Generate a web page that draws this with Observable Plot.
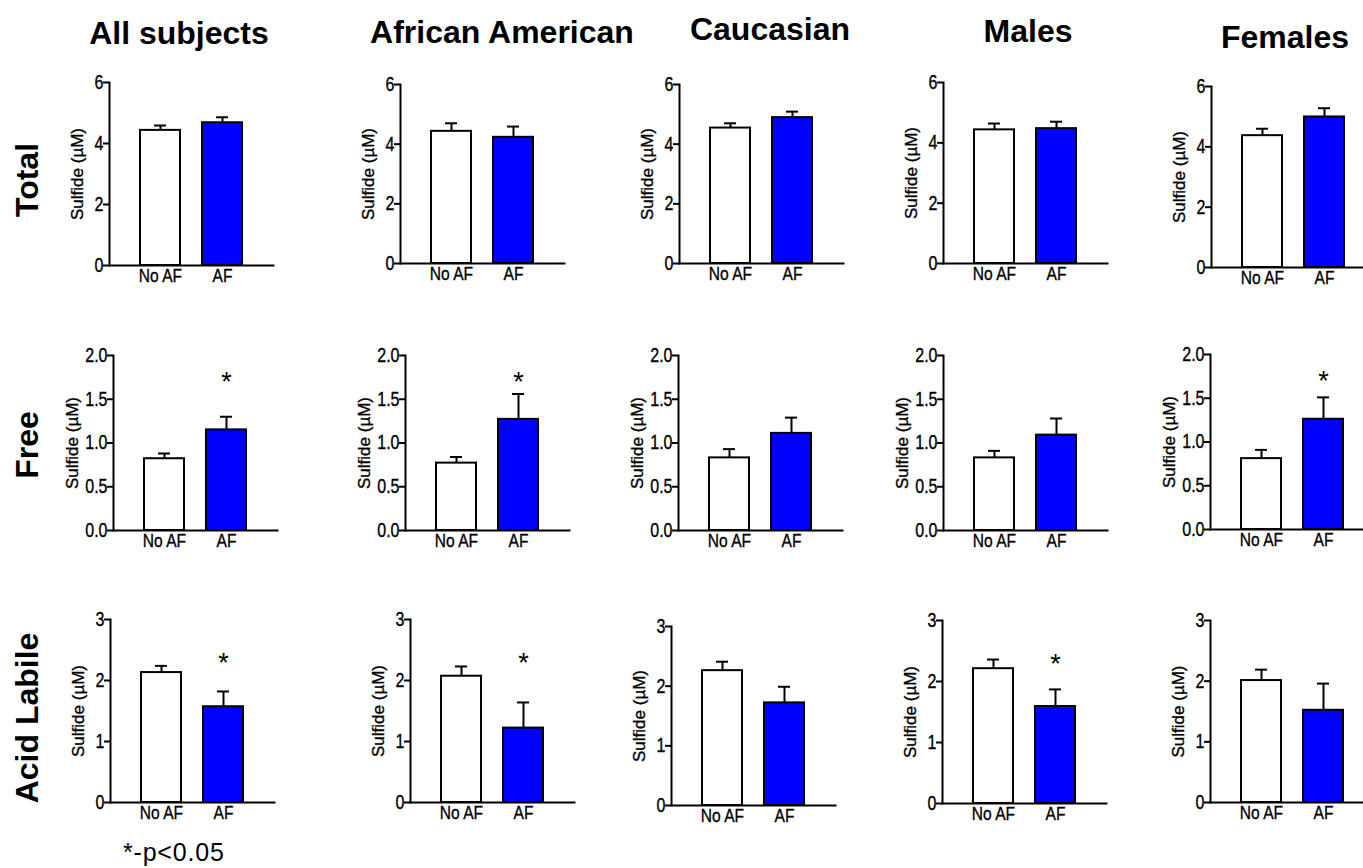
<!DOCTYPE html>
<html>
<head>
<meta charset="utf-8">
<script src="https://cdn.jsdelivr.net/npm/d3@7"></script>
<script src="https://cdn.jsdelivr.net/npm/@observablehq/plot@0.6"></script>
<style>
  body { margin: 0; background: #fff; font-family: "Liberation Sans", Arial, sans-serif; }
  #wrap { position: relative; width: 1363px; height: 868px; overflow: hidden; background: #fff; }
  .panel { position: absolute; }
  .title { position: absolute; font-weight: bold; font-size: 32px; white-space: nowrap; transform: translateX(-50%); line-height: 1; }
  .rowlab { position: absolute; font-weight: bold; font-size: 32px; white-space: nowrap; transform: translate(-50%, -50%) rotate(-90deg); line-height: 1; }
  .note { position: absolute; font-size: 25px; letter-spacing: 0.8px; white-space: nowrap; line-height: 1; }
</style>
</head>
<body>
<div id="wrap"></div>
<script>
// ---------- data ----------
const groups = ["All subjects", "African American", "Caucasian", "Males", "Females"];
const measures = ["Total", "Free", "Acid Labile"];
const conditions = ["No AF", "AF"];
const yLabel = "Sulfide (µM)";
const yMax = [6, 2, 3];
const yTicks = [[0, 2, 4, 6], [0, 0.5, 1, 1.5, 2], [0, 1, 2, 3]];

const totalNoAF    = [4.43, 4.43, 4.54, 4.43, 4.37];
const totalNoAFErr = [0.16, 0.27, 0.16, 0.21, 0.23];
const totalAF      = [4.68, 4.23, 4.89, 4.47, 4.99];
const totalAFErr   = [0.18, 0.36, 0.20, 0.23, 0.29];
const totalSig     = [0, 0, 0, 0, 0];

const freeNoAF    = [0.82, 0.77, 0.83, 0.83, 0.81];
const freeNoAFErr = [0.06, 0.07, 0.10, 0.08, 0.10];
const freeAF      = [1.15, 1.27, 1.11, 1.09, 1.26];
const freeAFErr   = [0.15, 0.29, 0.18, 0.19, 0.25];
const freeSig     = [1, 1, 0, 0, 1];

const labileNoAF    = [2.13, 2.07, 2.26, 2.21, 2.01];
const labileNoAFErr = [0.11, 0.16, 0.15, 0.15, 0.18];
const labileAF      = [1.57, 1.22, 1.72, 1.59, 1.52];
const labileAFErr   = [0.25, 0.42, 0.27, 0.28, 0.44];
const labileSig     = [1, 1, 0, 1, 0];

const starLevel = [5.5, 1.77, 2.4];
const footnote = "*-p<0.05";

const rowsData = [
  [totalNoAF, totalNoAFErr, totalAF, totalAFErr, totalSig],
  [freeNoAF, freeNoAFErr, freeAF, freeAFErr, freeSig],
  [labileNoAF, labileNoAFErr, labileAF, labileAFErr, labileSig]
];

// ---------- layout ----------
const axisX = [[109, 400, 679, 943, 1211], [113, 405, 678, 943, 1210], [110, 410, 671, 942, 1210]];
const topY  = [[82, 84, 84, 82, 86], [355, 355, 355, 355, 354], [619, 619, 626, 620, 620]];
const zeroY = [[265, 263, 263, 263, 267], [530, 530, 530, 530, 529], [802, 802, 805, 803, 802]];
const labelOffset = [39, 48, 39];
const titlePos = [[179, 17], [502, 16], [770, 13], [1028, 15], [1285, 21]];
const rowLabPos = [[27, 180], [27, 445], [27, 718]];

const ML = 70, MR = 4, MT = 12, MB = 34, L = 164;
const font = "'Liberation Sans', Arial, sans-serif";
const wrap = document.getElementById("wrap");

groups.forEach((g, c) => {
  const t = document.createElement("div");
  t.className = "title";
  t.textContent = g;
  t.style.left = titlePos[c][0] + "px";
  t.style.top = titlePos[c][1] + "px";
  wrap.appendChild(t);
});
measures.forEach((m, r) => {
  const t = document.createElement("div");
  t.className = "rowlab";
  t.textContent = m;
  t.style.left = rowLabPos[r][0] + "px";
  t.style.top = rowLabPos[r][1] + "px";
  wrap.appendChild(t);
});

function condense(plot, label, k) {
  plot.querySelectorAll(`g[aria-label="${label}"]`).forEach(g => {
    g.setAttribute("stroke", "#000");
    g.setAttribute("stroke-width", "0.35");
  });
  plot.querySelectorAll(`g[aria-label="${label}"] text`).forEach(t => {
    const tr = t.getAttribute("transform") || "";
    t.setAttribute("transform", tr + ` scale(${k},1)`);
  });
}

for (let r = 0; r < 3; r++) {
  const [m0, e0, m1, e1, sig] = rowsData[r];
  for (let c = 0; c < 5; c++) {
    const data = [
      {cond: conditions[0], v: m0[c], e: e0[c]},
      {cond: conditions[1], v: m1[c], e: e1[c]}
    ];
    const stars = sig[c] ? [{cond: conditions[1]}] : [];
    const h = zeroY[r][c] - topY[r][c];
    const fmt = r === 1 ? d3.format(".1f") : d3.format("d");
    const plot = Plot.plot({
      width: ML + L + MR,
      height: MT + h + MB,
      marginLeft: ML, marginRight: MR, marginTop: MT, marginBottom: MB,
      style: {background: "transparent", overflow: "visible", fontFamily: font, color: "#000"},
      x: {domain: conditions, paddingInner: 0.36, paddingOuter: 0.49, align: 0.5, label: null},
      y: {domain: [0, yMax[r]], label: null},
      color: {domain: conditions, range: ["#ffffff", "#0000ff"]},
      marks: [
        Plot.ruleX(data, {x: "cond", y1: "v", y2: d => d.v + d.e, stroke: "#000", strokeWidth: 2}),
        Plot.tickY(data, {x: "cond", y: d => d.v + d.e, stroke: "#000", strokeWidth: 2, insetLeft: 14, insetRight: 14}),
        Plot.barY(data, {x: "cond", y: "v", fill: "cond", stroke: "#000", strokeWidth: 2}),
        Plot.text(stars, {x: "cond", y: () => starLevel[r], text: () => "*", fontSize: 27, dy: 7}),
        Plot.axisY({ticks: yTicks[r], tickFormat: fmt, tickSize: 6, tickPadding: 0, strokeWidth: 2, fontSize: 20, label: null}),
        Plot.axisX({tickSize: 0, tickPadding: 3, fontSize: 19, label: null}),
        Plot.text([yLabel], {frameAnchor: "left", text: d => d, rotate: -90, dx: -labelOffset[r], lineAnchor: "top", textAnchor: "middle", fontSize: 17, fill: "#000", stroke: "#000", strokeWidth: 0.35}),
        Plot.frame({anchor: "left", stroke: "#000", strokeWidth: 2}),
        Plot.frame({anchor: "bottom", stroke: "#000", strokeWidth: 2})
      ]
    });
    condense(plot, "y-axis tick label", 0.8);
    condense(plot, "x-axis tick label", 0.82);
    plot.classList.add("panel");
    plot.style.left = (axisX[r][c] - ML) + "px";
    plot.style.top = (topY[r][c] - MT) + "px";
    wrap.appendChild(plot);
  }
}

const n = document.createElement("div");
n.className = "note";
n.textContent = footnote;
n.style.left = "123px";
n.style.top = "840px";
wrap.appendChild(n);
</script>
</body>
</html>
